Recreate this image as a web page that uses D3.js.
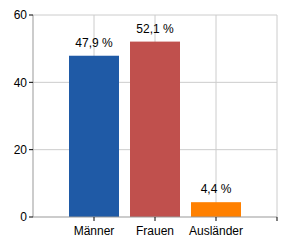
<!DOCTYPE html>
<html>
<head>
<meta charset="utf-8">
<script src="https://cdn.jsdelivr.net/npm/d3@7"></script>
<style>
  body { margin: 0; background: #fff; }
  text { font-family: "Liberation Sans", Arial, sans-serif; font-size: 12px; fill: #000; }
</style>
</head>
<body>
<div id="chart"></div>
<script>
// data
var categories = ["Männer", "Frauen", "Ausländer"];
var values = [47.9, 52.1, 4.4];
var labels = ["47,9 %", "52,1 %", "4,4 %"];
var colors = ["#1f5aa6", "#c0504d", "#ff8000"];
var yTicks = [0, 20, 40, 60];

var margin = {top: 15, right: 13, bottom: 33, left: 33},
    width = 290 - margin.left - margin.right,
    height = 250 - margin.top - margin.bottom;

var svg = d3.select("#chart")
  .append("svg")
  .attr("width", width + margin.left + margin.right)
  .attr("height", height + margin.top + margin.bottom)
  .append("g")
  .attr("transform", "translate(" + margin.left + "," + margin.top + ")");

var x = d3.scalePoint()
  .domain(categories)
  .range([0, width])
  .padding(1);
var step = x.step();

var y = d3.scaleLinear()
  .domain([0, 60])
  .range([height, 0]);

// horizontal grid
svg.selectAll("hgrid")
  .data(yTicks.slice(1))
  .enter()
  .append("line")
  .attr("x1", 0).attr("x2", width)
  .attr("y1", d => y(d)).attr("y2", d => y(d))
  .attr("stroke", "#cccccc");

// vertical grid (between slots)
var vLines = d3.range(1, categories.length + 2).map(i => i * step);
svg.selectAll("vgrid")
  .data(vLines)
  .enter()
  .append("line")
  .attr("x1", d => d).attr("x2", d => d)
  .attr("y1", 0).attr("y2", height)
  .attr("stroke", "#cccccc");

// bars
var barW = 50;
svg.selectAll("mybar")
  .data(values)
  .enter()
  .append("rect")
  .attr("x", (d, i) => x(categories[i]) - barW / 2)
  .attr("y", d => y(d))
  .attr("width", barW)
  .attr("height", d => height - y(d))
  .attr("fill", (d, i) => colors[i]);

// value labels
svg.selectAll("vlabel")
  .data(values)
  .enter()
  .append("text")
  .attr("x", (d, i) => x(categories[i]))
  .attr("y", d => y(d) - 9)
  .attr("text-anchor", "middle")
  .text((d, i) => labels[i]);

// y axis
svg.append("line")
  .attr("x1", 0).attr("x2", 0)
  .attr("y1", 0).attr("y2", height)
  .attr("stroke", "#999999");
svg.selectAll("ytick")
  .data(yTicks)
  .enter()
  .append("line")
  .attr("x1", -4).attr("x2", 0)
  .attr("y1", d => y(d)).attr("y2", d => y(d))
  .attr("stroke", "#000");
svg.selectAll("ylabel")
  .data(yTicks)
  .enter()
  .append("text")
  .attr("x", -6)
  .attr("y", d => y(d))
  .attr("dy", "0.35em")
  .attr("text-anchor", "end")
  .text(d => d);

// x axis
svg.append("line")
  .attr("x1", 0).attr("x2", width)
  .attr("y1", height).attr("y2", height)
  .attr("stroke", "#999999");
svg.selectAll("xtick")
  .data(vLines)
  .enter()
  .append("line")
  .attr("x1", d => d).attr("x2", d => d)
  .attr("y1", height).attr("y2", height + 4)
  .attr("stroke", "#000");
svg.selectAll("xlabel")
  .data(categories)
  .enter()
  .append("text")
  .attr("x", d => x(d))
  .attr("y", height + 18)
  .attr("text-anchor", "middle")
  .text(d => d);
</script>
</body>
</html>
